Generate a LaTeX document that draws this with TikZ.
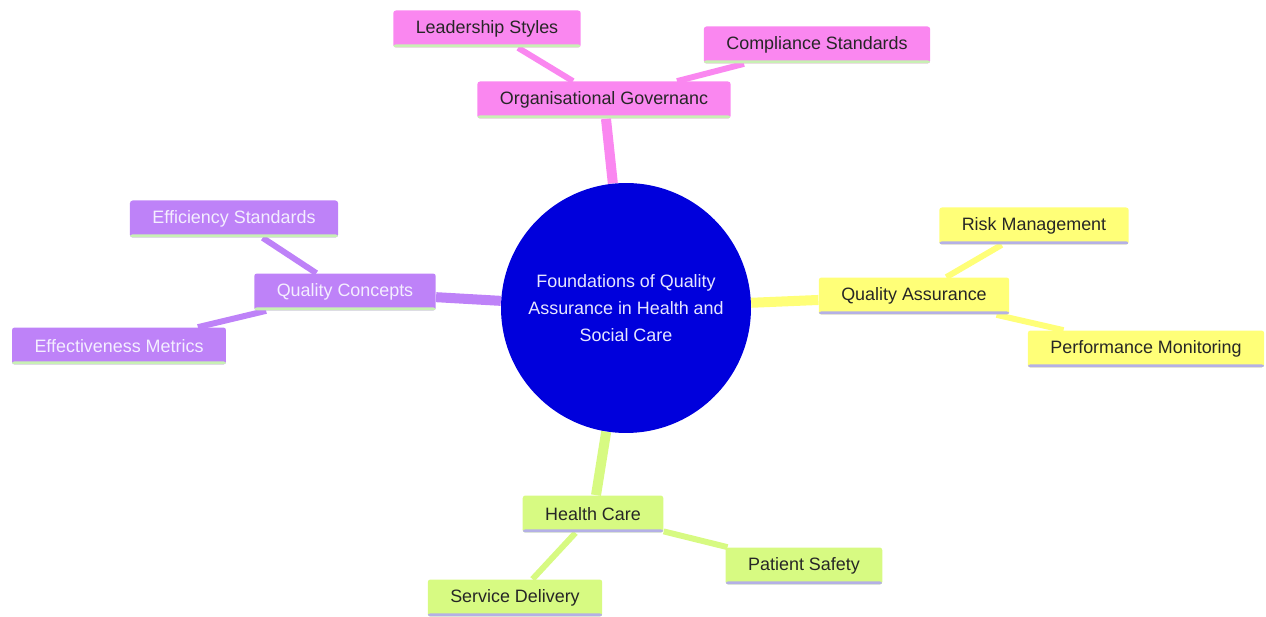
\documentclass[tikz,border=0pt]{standalone}
\usepackage{fontspec}
\setmainfont{Liberation Sans}
\usetikzlibrary{backgrounds}
\definecolor{rootblue}{HTML}{0000DC}
\definecolor{roottext}{HTML}{E6E6FF}
\definecolor{govpink}{HTML}{FA87F0}
\definecolor{conpurple}{HTML}{BE82F8}
\definecolor{qayellow}{HTML}{FFFF78}
\definecolor{hcgreen}{HTML}{D7FA82}
\definecolor{rimgreen}{HTML}{C8F0B4}
\definecolor{rimlav}{HTML}{B4B0E6}
\definecolor{darktext}{HTML}{262626}
\definecolor{lighttext}{HTML}{F4EEFF}
\begin{document}
\begin{tikzpicture}[x=0.02cm, y=-0.02cm,
    rim/.style={path picture={\fill[#1] (path picture bounding box.south west) rectangle ([yshift=1.8pt]path picture bounding box.south east);}},
    leaf/.style={rectangle, rounded corners=1.5pt, inner xsep=0.45cm, minimum height=0.74cm, font=\fontsize{10.2}{12}\selectfont},
    govbox/.style={leaf, fill=govpink, text=darktext, rim=rimgreen},
    conbox/.style={leaf, fill=conpurple, text=lighttext, rim=rimgreen},
    qabox/.style={leaf, fill=qayellow, text=darktext, rim=rimlav},
    hcbox/.style={leaf, fill=hcgreen, text=darktext, rim=rimlav},
    trunk/.style={line width=5.7pt},
    twig/.style={line width=3.4pt}]
  \useasboundingbox (0,0) rectangle (1266,617);
  % root
  \node[circle, fill=rootblue, text=roottext, minimum size=5cm, align=center,
        font=\fontsize{10.2}{15.3}\selectfont] (root) at (626,308)
        {Foundations of Quality\\Assurance in Health and\\Social Care};
  % governance branch
  \node[govbox] (gov) at (604,100) {Organisational Governanc};
  \node[govbox] (lead) at (487,29) {Leadership Styles};
  \node[govbox] (comp) at (817,45) {Compliance Standards};
  % concepts branch
  \node[conbox] (con) at (345,292) {Quality Concepts};
  \node[conbox] (eff) at (234,219) {Efficiency Standards};
  \node[conbox] (met) at (119,346) {Effectiveness Metrics};
  % assurance branch
  \node[qabox] (qa) at (914,296) {Quality Assurance};
  \node[qabox] (risk) at (1034,226) {Risk Management};
  \node[qabox] (perf) at (1146,349) {Performance Monitoring};
  % health care branch
  \node[hcbox] (hc) at (593,514) {Health Care};
  \node[hcbox] (safe) at (804,566) {Patient Safety};
  \node[hcbox] (serv) at (515,598) {Service Delivery};
  \begin{scope}[on background layer]
    \draw[trunk, govpink](root) -- (gov);
    \draw[twig, govpink](gov) -- (lead);
    \draw[twig, govpink](gov) -- (comp);
    \draw[trunk, conpurple](root) -- (con);
    \draw[twig, conpurple](con) -- (eff);
    \draw[twig, conpurple](con) -- (met);
    \draw[trunk, qayellow](root) -- (qa);
    \draw[twig, qayellow](qa) -- (risk);
    \draw[twig, qayellow](qa) -- (perf);
    \draw[trunk, hcgreen](root) -- (hc);
    \draw[twig, hcgreen](hc) -- (safe);
    \draw[twig, hcgreen](hc) -- (serv);
  \end{scope}
\end{tikzpicture}
\end{document}
